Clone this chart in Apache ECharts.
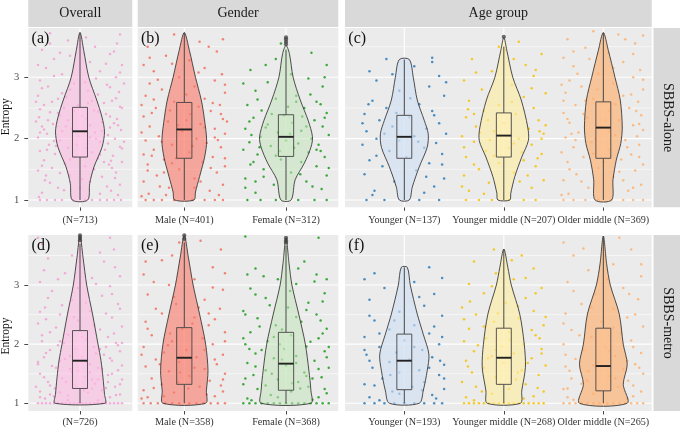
<!DOCTYPE html>
<html><head><meta charset="utf-8">
<script src="https://cdn.jsdelivr.net/npm/echarts@6.0.0/dist/echarts.min.js"></script>
<style>html,body{margin:0;padding:0;background:#fff}#c{width:680px;height:428px}</style>
</head><body><div id="c"></div>
<script>
// ---------------- data ----------------
const facetCols = ['Overall', 'Gender', 'Age group'];
const facetRows = ['SBBS-alone', 'SBBS-metro'];
const panelTags = ['(a)', '(b)', '(c)', '(d)', '(e)', '(f)'];
const yAxisTitle = 'Entropy';
const yTicks = [1, 2, 3];
const yMinorLines = [1.5, 2.5, 3.5];
const catLabelsAlone = [['(N=713)'], ['Male (N=401)', 'Female (N=312)'], ['Younger (N=137)', 'Younger middle (N=207)', 'Older middle (N=369)']];
const catLabelsMetro = [['(N=726)'], ['Male (N=358)', 'Female (N=368)'], ['Younger (N=193)', 'Younger middle (N=268)', 'Older middle (N=265)']];

// box stats per group: [lower whisker, Q1, median, Q3, upper whisker]
// group order: overall, male, female, younger, younger middle, older middle
const boxAlone = [[1,1.70,2.12,2.51,3.73],[1,1.68,2.15,2.59,3.73],[1,1.71,2.03,2.39,3.45],[1,1.68,2.03,2.38,3.29],[1,1.70,2.05,2.42,3.50],[1,1.68,2.18,2.60,3.73]];
const boxMetro = [[1,1.25,1.72,2.23,3.70],[1,1.32,1.77,2.28,3.72],[1,1.22,1.67,2.20,3.67],[1,1.23,1.72,2.17,3.30],[1,1.32,1.77,2.27,3.61],[1,1.21,1.63,2.27,3.83]];
const outliersAlone = [[],[],[3.54,3.58,3.62,3.65],[],[3.66],[]];
const outliersMetro = [[3.76,3.80,3.84],[3.78,3.84],[3.72,3.76,3.80],[],[],[]];

// violin density profiles: [entropy, half-width]
const vioAlone = [
  [[1,0.077],[1.27,0.097],[1.54,0.14],[1.86,0.22],[2.11,0.245],[2.35,0.22],[2.63,0.167],[3.0,0.088],[3.44,0.037],[3.73,0]],
  [[1,0.095],[1.13,0.11],[1.38,0.15],[1.70,0.20],[1.97,0.22],[2.35,0.195],[2.63,0.167],[3.0,0.11],[3.44,0.05],[3.73,0]],
  [[1,0.05],[1.33,0.09],[1.60,0.18],[1.86,0.245],[2.03,0.26],[2.30,0.217],[2.63,0.14],[3.0,0.07],[3.39,0.033],[3.52,0]],
  [[1,0.05],[1.21,0.08],[1.54,0.15],[1.86,0.23],[2.08,0.24],[2.30,0.20],[2.63,0.13],[3.0,0.09],[3.29,0.05]],
  [[1,0.06],[1.11,0.07],[1.38,0.11],[1.70,0.18],[1.97,0.247],[2.19,0.24],[2.63,0.175],[3.0,0.09],[3.44,0.03],[3.65,0]],
  [[1,0.083],[1.33,0.097],[1.65,0.13],[1.92,0.175],[2.19,0.19],[2.63,0.17],[3.0,0.117],[3.44,0.05],[3.73,0]]
];
const vioMetro = [
  [[1,0.25],[1.15,0.245],[1.43,0.23],[1.72,0.21],[2.0,0.18],[2.51,0.125],[3.0,0.067],[3.47,0.03],[3.84,0]],
  [[1,0.21],[1.21,0.217],[1.55,0.233],[2.0,0.21],[2.51,0.15],[3.0,0.087],[3.47,0.04],[3.84,0]],
  [[1,0.245],[1.21,0.245],[1.55,0.225],[2.0,0.19],[2.51,0.125],[3.0,0.058],[3.36,0.03],[3.8,0]],
  [[1,0.15],[1.21,0.19],[1.55,0.23],[1.83,0.247],[2.17,0.19],[2.51,0.13],[3.0,0.06],[3.30,0.03]],
  [[1,0.167],[1.21,0.18],[1.61,0.217],[2.0,0.205],[2.51,0.16],[3.0,0.075],[3.30,0.04],[3.61,0]],
  [[1,0.24],[1.32,0.20],[1.66,0.24],[2.0,0.20],[2.51,0.16],[3.0,0.07],[3.36,0.033],[3.83,0]]
];

const ptsOverallAlone = [-0.40,1,-0.33,1,-0.25,1,-0.18,1,-0.07,1,0.05,1,0.12,1,0.2,1,0.27,1,0.34,1,0.41,1,
 -0.38,1.12,0.31,1.15,-0.22,1.2,0.4,1.25,0.1,1.3,-0.35,1.32,0.22,1.38,-0.1,1.4,0.36,1.45,-0.42,1.48,-0.28,1.52,0.05,1.55,0.29,1.58,-0.15,1.6,0.42,1.62,-0.36,1.65,0.18,1.68,-0.05,1.7,0.33,1.72,-0.25,1.75,0.12,1.78,-0.4,1.8,0.25,1.82,-0.12,1.85,0.4,1.87,-0.31,1.9,0.07,1.92,0.2,1.95,-0.2,1.97,0.35,2.0,-0.42,2.02,-0.02,2.04,0.28,2.06,-0.33,2.08,0.15,2.1,-0.18,2.12,0.41,2.14,-0.08,2.16,0.3,2.18,-0.38,2.2,0.1,2.22,-0.27,2.24,0.22,2.27,-0.12,2.3,0.37,2.32,-0.41,2.35,0.02,2.37,0.26,2.4,-0.3,2.43,0.14,2.46,-0.16,2.5,0.4,2.52,-0.36,2.55,0.08,2.58,0.32,2.62,-0.22,2.65,-0.42,2.7,0.18,2.72,0.39,2.76,-0.1,2.8,-0.32,2.85,0.27,2.88,0.05,2.92,-0.4,2.95,0.36,3.0,-0.18,3.05,0.2,3.1,-0.34,3.15,0.42,3.2,0.1,3.25,-0.26,3.3,0.3,3.38,-0.38,3.45,0.15,3.5,-0.12,3.6,0.37,3.55,-0.3,3.72,
 -0.24,1.88,0.16,2.0,-0.36,2.15,0.34,2.25,-0.06,2.45,0.24,1.62,-0.2,2.38,0.06,1.85,-0.44,2.28,0.44,1.95,-0.14,2.68,0.12,2.62,
 -0.41,1.05,0.38,1.08,-0.16,1.16,0.27,1.22,-0.3,1.28,0.02,1.34,0.35,1.36,-0.2,1.44,0.14,1.5,-0.38,1.56,0.31,1.64,-0.1,1.66,0.2,1.74,-0.33,1.82,0.42,1.84,-0.03,1.9,0.28,1.92,-0.26,1.96,0.1,2.02,-0.4,2.1,0.22,2.12,-0.14,2.2,0.38,2.22,-0.32,2.3,0.06,2.33,0.3,2.36,-0.22,2.42,0.18,2.44,-0.4,2.48,0.42,2.5,-0.02,2.55,0.24,2.58,-0.28,2.6,0.36,2.66,-0.18,2.74,0.08,2.78,-0.38,2.82,0.3,2.84,-0.06,2.9,0.16,2.98,-0.26,3.02,0.4,3.08,-0.42,3.2,0.26,3.22,-0.1,3.35,0.34,3.42,-0.3,3.55,0.06,3.65,0.4,3.7,-0.2,3.4,0.44,2.9,-0.44,2.6,0.32,1.52,-0.34,1.4,0.0,1.2,0.2,1.1];
const ptsMaleAlone = [-0.38,1,-0.3,1,-0.22,1,-0.1,1,0.08,1,0.2,1,0.3,1,0.38,1,
 -0.35,1.1,0.25,1.15,-0.15,1.2,0.38,1.25,-0.4,1.3,0.1,1.35,-0.27,1.4,0.32,1.45,-0.05,1.5,0.4,1.55,-0.36,1.58,0.18,1.62,-0.2,1.66,0.28,1.7,-0.4,1.74,0.05,1.78,-0.3,1.82,0.36,1.86,-0.12,1.9,0.22,1.93,-0.38,1.97,0.12,2.0,-0.25,2.04,0.4,2.08,-0.02,2.12,0.3,2.16,-0.34,2.2,0.16,2.24,-0.16,2.28,0.38,2.32,-0.4,2.36,0.06,2.4,0.26,2.45,-0.28,2.5,0.35,2.55,-0.1,2.6,0.2,2.65,-0.38,2.7,0.4,2.75,-0.22,2.8,0.1,2.85,-0.34,2.9,0.3,2.95,-0.05,3.0,0.37,3.05,-0.3,3.1,0.2,3.15,-0.4,3.2,0.05,3.28,-0.18,3.35,0.32,3.42,-0.36,3.5,0.15,3.58,-0.1,3.7,0.38,3.62,
 -0.08,1.68,0.33,1.98,-0.32,2.42,0.02,2.3,-0.2,1.45,0.14,2.52,
 -0.42,1.06,0.34,1.08,-0.24,1.22,0.16,1.3,-0.36,1.48,0.26,1.52,-0.12,1.6,0.4,1.68,-0.32,1.72,0.08,1.88,-0.22,1.95,0.3,2.02,-0.42,2.1,0.2,2.18,-0.06,2.22,0.36,2.4,-0.14,2.46,0.28,2.58,-0.3,2.64,0.02,2.72,0.4,2.88,-0.26,2.96,0.14,3.08,-0.12,3.22,0.24,3.5,-0.34,3.32,0.42,2.28,-0.42,2.55,0.1,1.2,-0.18,1.08];
const ptsFemaleAlone = [-0.38,1,-0.25,1,-0.1,1,0.12,1,0.28,1,0.4,1,
 -0.3,1.12,0.35,1.18,-0.12,1.25,0.2,1.3,-0.4,1.35,0.4,1.4,0.05,1.45,-0.22,1.5,0.3,1.55,-0.35,1.58,0.15,1.62,-0.05,1.66,0.38,1.7,-0.28,1.74,0.22,1.78,-0.42,1.82,0.08,1.85,-0.15,1.88,0.32,1.9,-0.36,1.94,0.0,1.97,0.25,2.0,-0.25,2.03,0.42,2.06,-0.08,2.1,0.15,2.13,-0.4,2.16,0.36,2.2,-0.18,2.23,0.06,2.26,0.28,2.3,-0.32,2.34,-0.02,2.38,0.4,2.42,-0.24,2.46,0.18,2.5,-0.38,2.55,0.3,2.6,-0.1,2.65,0.1,2.7,-0.3,2.78,0.36,2.85,-0.18,2.92,0.22,2.98,0.05,3.05,-0.35,3.12,0.4,3.2,-0.1,3.3,0.25,3.4,-0.05,3.55,
 0.12,1.92,-0.2,2.18,0.34,1.8,-0.34,2.06,0.02,2.52,
 -0.4,1.2,0.26,1.22,-0.22,1.38,0.14,1.42,-0.32,1.62,0.42,1.52,-0.1,1.72,0.3,1.82,-0.26,1.86,0.04,2.08,0.2,2.2,-0.36,2.28,0.38,2.34,-0.14,2.4,0.1,2.6,-0.28,2.64,0.24,2.72,-0.42,2.9,0.38,3.0,-0.2,3.2,0.16,2.36,-0.06,1.8,0.34,2.56,-0.3,1.3];
const ptsYoungerAlone = [-0.38,1,-0.2,1,0.15,1,0.35,1,
 -0.3,1.15,0.3,1.22,-0.1,1.3,0.4,1.35,-0.4,1.42,0.12,1.48,-0.22,1.55,0.25,1.6,-0.35,1.65,0.02,1.7,0.38,1.75,-0.15,1.8,0.2,1.85,-0.42,1.9,0.32,1.93,-0.05,1.97,-0.28,2.0,0.1,2.04,0.42,2.08,-0.38,2.12,0.22,2.16,-0.12,2.2,0.35,2.25,-0.25,2.3,0.05,2.35,-0.4,2.4,0.28,2.45,-0.18,2.5,0.15,2.56,-0.32,2.62,0.4,2.7,-0.05,2.78,0.25,2.85,-0.28,2.95,0.35,3.02,-0.35,3.1,0.1,3.18,-0.18,3.3,0.28,3.32,
 -0.32,1.08,0.22,1.38,-0.28,1.72,0.14,1.95,-0.2,2.08,0.3,2.38,-0.36,2.56,0.06,2.66,0.42,2.92,-0.12,3.05,0.2,1.12,-0.42,2.25,0.38,1.58,-0.08,2.42,0.28,3.25];
const ptsYMiddleAlone = [-0.38,1,-0.25,1,-0.12,1,0.05,1,0.2,1,0.32,1,
 -0.35,1.15,0.28,1.2,-0.15,1.28,0.4,1.32,-0.4,1.4,0.1,1.45,-0.25,1.5,0.32,1.55,-0.05,1.6,0.2,1.65,-0.38,1.7,0.38,1.75,-0.18,1.8,0.05,1.85,0.28,1.9,-0.3,1.95,0.15,2.0,-0.42,2.04,0.4,2.08,-0.1,2.12,0.25,2.16,-0.28,2.2,0.0,2.25,0.35,2.3,-0.38,2.35,0.12,2.4,-0.2,2.45,0.3,2.5,-0.05,2.55,-0.35,2.62,0.2,2.68,0.42,2.74,-0.22,2.8,0.08,2.88,-0.4,2.95,0.3,3.02,-0.12,3.1,0.22,3.2,-0.32,3.3,0.38,3.38,-0.05,3.5,0.15,3.58,
 -0.3,2.4,0.18,1.78,0.36,2.12,-0.14,1.98,
 -0.42,1.22,0.16,1.3,-0.3,1.58,0.34,1.68,-0.1,1.72,0.1,1.92,-0.24,2.1,0.42,2.22,-0.36,2.48,0.08,2.6,0.28,2.82,-0.28,3.08,0.1,3.3,0.38,2.0,-0.16,2.3,0.24,1.4,-0.4,1.86,0.02,3.45,0.32,3.12,-0.2,1.1];
const ptsOMiddleAlone = [-0.4,1,-0.3,1,-0.18,1,-0.05,1,0.08,1,0.2,1,0.3,1,0.4,1,
 -0.35,1.1,0.25,1.15,-0.15,1.2,0.38,1.25,-0.4,1.32,0.1,1.38,-0.27,1.42,0.32,1.48,-0.05,1.52,0.4,1.58,-0.36,1.62,0.18,1.66,-0.2,1.7,0.28,1.74,-0.42,1.78,0.05,1.82,-0.3,1.86,0.36,1.9,-0.12,1.94,0.22,1.98,-0.38,2.02,0.12,2.06,-0.25,2.1,0.4,2.14,-0.02,2.18,0.3,2.22,-0.34,2.26,0.16,2.3,-0.16,2.34,0.38,2.38,-0.4,2.42,0.06,2.46,0.26,2.5,-0.28,2.55,0.35,2.6,-0.1,2.65,0.2,2.7,-0.38,2.75,0.4,2.8,-0.22,2.85,0.1,2.9,-0.34,2.95,0.3,3.0,-0.05,3.06,0.37,3.12,-0.3,3.18,0.2,3.25,-0.4,3.32,0.05,3.4,-0.18,3.48,0.32,3.55,-0.36,3.62,0.15,3.7,-0.1,3.75,
 -0.08,2.0,0.33,2.45,-0.32,2.08,0.02,2.3,
 -0.42,1.08,0.3,1.2,-0.22,1.3,0.16,1.46,-0.34,1.5,0.36,1.7,-0.1,1.76,0.24,1.86,-0.28,1.98,0.06,2.12,0.36,2.24,-0.2,2.4,0.12,2.56,-0.4,2.62,0.28,2.72,-0.06,2.8,0.4,2.96,-0.26,3.06,0.1,3.15,-0.14,3.3,0.3,3.38,-0.3,3.42,0.22,3.62,0.4,3.68,-0.42,2.88,0.0,1.62,0.2,1.32,-0.36,2.32,0.34,2.04,-0.18,2.62];
const ptsOverallMetro = [-0.42,1,-0.38,1,-0.34,1,-0.3,1,-0.26,1,-0.22,1,-0.18,1,-0.14,1,-0.1,1,-0.06,1,-0.02,1,0.02,1,0.06,1,0.1,1,0.14,1,0.18,1,0.22,1,0.26,1,0.3,1,0.34,1,0.38,1,0.42,1,
 -0.35,1.08,0.3,1.1,-0.12,1.13,0.4,1.15,0.08,1.18,-0.4,1.2,0.22,1.22,-0.25,1.25,0.35,1.28,-0.05,1.3,0.15,1.33,-0.32,1.36,0.42,1.4,-0.18,1.42,0.05,1.45,0.28,1.48,-0.4,1.5,-0.08,1.53,0.38,1.56,0.18,1.6,-0.28,1.63,0.1,1.66,-0.42,1.7,0.32,1.72,-0.15,1.75,0.02,1.78,0.24,1.82,-0.34,1.85,0.4,1.88,-0.05,1.92,0.14,1.95,-0.22,1.98,0.36,2.02,-0.38,2.05,0.06,2.08,0.28,2.12,-0.12,2.16,-0.3,2.2,0.2,2.25,0.42,2.3,-0.42,2.35,-0.02,2.4,0.32,2.45,-0.2,2.5,0.1,2.56,-0.35,2.62,0.38,2.68,-0.08,2.75,0.22,2.82,-0.28,2.9,0.3,2.98,-0.4,3.05,0.12,3.12,-0.15,3.2,0.35,3.3,-0.32,3.45,0.2,3.55,-0.38,3.7,0.1,3.85,
 -0.26,1.12,0.18,1.4,-0.1,1.58,0.26,1.95,-0.36,1.78,0.0,2.22,0.12,1.25,-0.2,2.05,
 -0.4,1.1,0.36,1.14,-0.2,1.18,0.04,1.22,0.26,1.26,-0.3,1.3,0.4,1.32,-0.14,1.36,0.12,1.4,-0.36,1.44,0.32,1.5,-0.02,1.55,0.22,1.58,-0.24,1.6,0.42,1.64,-0.42,1.66,0.06,1.7,0.3,1.76,-0.1,1.8,-0.3,1.9,0.2,1.92,0.38,1.98,-0.16,2.02,0.02,2.12,-0.38,2.15,0.34,2.18,-0.24,2.28,0.14,2.32,-0.06,2.46,0.26,2.52,-0.4,2.55,0.4,2.6,-0.18,2.66,0.06,2.7,-0.32,2.78,0.32,2.85,-0.02,2.95,0.16,3.02,-0.22,3.1,0.4,3.15,-0.36,3.25,0.24,3.4,-0.08,3.5,0.34,3.6,-0.42,3.8,0.3,3.8,-0.12,1.05,0.18,1.05,-0.3,1.15,0.28,1.36,0.1,1.52,-0.2,1.72,0.16,1.84,-0.34,2.42,0.42,2.02,-0.44,1.28];
const ptsMaleMetro = [-0.4,1,-0.33,1,-0.26,1,-0.19,1,-0.12,1,-0.05,1,0.05,1,0.12,1,0.19,1,0.26,1,0.33,1,0.4,1,
 -0.36,1.1,0.3,1.12,-0.1,1.18,0.38,1.2,-0.4,1.22,0.15,1.28,-0.22,1.32,0.25,1.38,-0.32,1.42,0.05,1.46,0.4,1.5,-0.15,1.54,0.2,1.58,-0.38,1.62,0.32,1.66,-0.05,1.7,-0.28,1.74,0.12,1.78,0.38,1.82,-0.2,1.86,0.02,1.9,-0.4,1.95,0.28,2.0,-0.12,2.05,0.18,2.1,-0.32,2.15,0.4,2.2,-0.02,2.26,0.24,2.32,-0.38,2.38,0.1,2.45,-0.22,2.52,0.35,2.6,-0.08,2.68,0.2,2.75,-0.36,2.84,0.38,2.92,-0.15,3.0,0.1,3.1,-0.4,3.18,0.28,3.3,-0.22,3.42,0.36,3.6,-0.05,3.72,
 -0.42,1.08,0.22,1.15,-0.3,1.26,0.36,1.3,-0.06,1.36,0.1,1.6,-0.24,1.66,0.3,1.74,-0.42,1.82,0.2,1.9,-0.16,1.98,0.4,2.05,-0.36,2.26,0.08,2.35,0.3,2.42,-0.28,2.6,0.14,2.62,-0.1,2.8,0.28,2.96,-0.3,3.05,0.4,3.2,-0.12,3.5,0.16,3.75,-0.38,3.4,0.38,1.4,-0.2,1.12,0.04,1.25,-0.14,2.18,0.24,2.52,-0.04,1.52];
const ptsFemaleMetro = [-0.42,1,-0.36,1,-0.3,1,-0.24,1,-0.18,1,-0.12,1,-0.06,1,0.0,1,0.06,1,0.12,1,0.18,1,0.24,1,0.3,1,0.36,1,0.42,1,
 -0.38,1.08,0.32,1.1,-0.15,1.14,0.4,1.17,0.05,1.2,-0.28,1.24,0.22,1.28,-0.42,1.32,0.12,1.36,-0.08,1.4,0.35,1.44,-0.32,1.48,0.18,1.52,-0.2,1.56,0.42,1.6,0.0,1.64,-0.38,1.68,0.28,1.72,-0.12,1.76,0.1,1.8,-0.3,1.84,0.38,1.88,-0.02,1.92,0.2,1.96,-0.4,2.0,-0.18,2.05,0.32,2.1,0.05,2.15,-0.35,2.2,0.4,2.26,-0.1,2.32,0.15,2.38,-0.28,2.44,0.3,2.5,-0.42,2.56,0.02,2.62,0.22,2.7,-0.2,2.78,0.38,2.86,-0.35,2.94,0.1,3.02,-0.08,3.1,0.3,3.18,-0.3,3.28,0.18,3.4,0.32,3.8,-0.4,3.82,
 0.26,1.42,-0.24,1.9,0.14,1.25,-0.04,2.25,
 -0.34,1.05,0.26,1.06,-0.08,1.1,0.38,1.24,-0.2,1.3,0.06,1.34,-0.4,1.42,0.2,1.46,-0.14,1.5,0.32,1.58,-0.3,1.62,0.1,1.68,-0.04,1.74,0.4,1.78,-0.36,1.92,0.24,2.04,-0.12,2.12,0.36,2.18,-0.26,2.3,0.1,2.46,-0.4,2.5,0.2,2.58,-0.16,2.66,0.36,2.72,-0.3,2.84,0.04,2.9,0.28,3.06,-0.22,3.15,0.4,3.1,-0.38,3.18,0.12,3.28,0.34,2.4,-0.06,2.0,0.42,1.95,-0.42,2.1];
const ptsYoungerMetro = [-0.4,1,-0.3,1,-0.2,1,-0.1,1,0.0,1,0.1,1,0.2,1,0.3,1,0.38,1,
 -0.35,1.1,0.28,1.14,-0.12,1.2,0.4,1.24,0.08,1.28,-0.4,1.32,0.2,1.36,-0.22,1.42,0.35,1.48,-0.05,1.52,0.15,1.56,-0.32,1.6,0.4,1.65,-0.15,1.7,0.05,1.74,0.28,1.78,-0.38,1.82,-0.08,1.86,0.18,1.9,-0.25,1.95,0.35,2.0,0.0,2.06,-0.4,2.12,0.25,2.18,-0.15,2.25,0.1,2.32,-0.3,2.4,0.38,2.48,-0.05,2.55,0.2,2.65,-0.35,2.75,0.3,2.85,-0.2,2.95,0.1,3.05,-0.4,3.1,0.38,3.12,-0.3,3.2,0.25,3.3,
 -0.25,1.05,0.32,1.08,-0.05,1.16,0.18,1.22,-0.3,1.3,0.4,1.42,-0.14,1.48,0.25,1.6,-0.35,1.72,0.1,1.95,0.38,2.12,-0.25,2.18,0.3,2.3,-0.1,2.4,0.15,2.8,-0.35,2.48,0.36,1.72,-0.4,1.9];
const ptsYMiddleMetro = [-0.4,1,-0.35,1,-0.3,1,-0.25,1,-0.2,1,-0.15,1,-0.1,1,-0.05,1,0.0,1,0.05,1,0.1,1,0.15,1,0.2,1,0.25,1,0.3,1,0.35,1,0.4,1,
 -0.38,1.1,0.3,1.12,-0.12,1.16,0.4,1.2,0.05,1.24,-0.28,1.28,0.22,1.32,-0.42,1.36,0.12,1.4,-0.08,1.44,0.35,1.48,-0.32,1.52,0.18,1.56,-0.2,1.6,0.42,1.64,0.0,1.68,-0.38,1.72,0.28,1.76,-0.12,1.8,0.1,1.84,-0.3,1.88,0.38,1.92,-0.02,1.96,0.2,2.0,-0.4,2.05,-0.18,2.1,0.32,2.15,0.05,2.2,-0.35,2.26,0.4,2.32,-0.1,2.38,0.15,2.44,-0.28,2.5,0.3,2.56,-0.42,2.62,0.02,2.7,0.22,2.78,-0.2,2.86,0.38,2.95,-0.35,3.02,0.1,3.1,-0.08,3.2,0.3,3.28,-0.3,3.4,0.18,3.5,-0.1,3.6,
 -0.3,1.05,0.2,1.08,-0.22,1.2,0.34,1.26,-0.04,1.32,0.14,1.52,-0.36,1.62,0.24,1.68,-0.16,1.76,0.38,1.84,-0.26,1.98,0.06,2.08,0.28,2.24,-0.2,2.3,0.42,2.46,-0.06,2.52,0.14,2.64,-0.34,2.72,0.32,2.86,-0.12,2.98,0.22,3.12,-0.4,2.42,0.08,3.42,0.36,2.1,-0.08,1.9];
const ptsOMiddleMetro = [-0.4,1,-0.34,1,-0.28,1,-0.22,1,-0.16,1,-0.1,1,-0.04,1,0.04,1,0.1,1,0.16,1,0.22,1,0.28,1,0.34,1,0.4,1,
 -0.36,1.1,0.3,1.12,-0.1,1.16,0.38,1.2,-0.4,1.24,0.15,1.28,-0.22,1.33,0.25,1.38,-0.32,1.42,0.05,1.46,0.4,1.5,-0.15,1.54,0.2,1.58,-0.38,1.62,0.32,1.66,-0.05,1.7,-0.28,1.75,0.12,1.8,0.38,1.85,-0.2,1.9,0.02,1.95,-0.4,2.0,0.28,2.06,-0.12,2.12,0.18,2.18,-0.32,2.24,0.4,2.3,-0.02,2.38,0.24,2.45,-0.38,2.52,0.1,2.6,-0.22,2.68,0.35,2.76,-0.08,2.85,0.2,2.95,-0.36,3.05,0.38,3.15,-0.15,3.25,0.1,3.35,-0.3,3.5,0.28,3.6,-0.4,3.72,
 -0.3,1.06,0.24,1.08,-0.04,1.22,0.3,1.3,-0.16,1.38,0.12,1.42,-0.34,1.55,0.36,1.6,-0.1,1.64,0.24,1.72,-0.38,1.82,0.06,1.88,0.3,1.95,-0.24,2.15,0.1,2.28,-0.4,2.35,0.32,2.5,-0.12,2.62,0.26,2.85,-0.3,2.9,0.04,3.1,0.38,3.35,-0.2,3.62,0.16,3.8,-0.36,1.25];
const ptsAlone = [ptsOverallAlone, ptsMaleAlone, ptsFemaleAlone, ptsYoungerAlone, ptsYMiddleAlone, ptsOMiddleAlone];
const ptsMetro = [ptsOverallMetro, ptsMaleMetro, ptsFemaleMetro, ptsYoungerMetro, ptsYMiddleMetro, ptsOMiddleMetro];

// ---------------- styles ----------------
const pointColors = ['#f49fd2', '#f2705f', '#1f9e1f', '#2b7bba', '#f7c200', '#fdb170'];
const violinFills = ['rgba(252,188,226,0.62)', 'rgba(250,125,108,0.62)', 'rgba(195,228,185,0.55)', 'rgba(208,222,244,0.62)', 'rgba(255,238,160,0.62)', 'rgba(252,178,118,0.7)'];
const boxFills = ['rgba(252,200,230,0.45)', 'rgba(250,140,125,0.4)', 'rgba(205,232,195,0.45)', 'rgba(215,228,246,0.45)', 'rgba(255,242,180,0.45)', 'rgba(252,190,140,0.45)'];
const SERIF = '"Liberation Serif", "DejaVu Serif", serif';

const colLayout = [
  {left: 28.3, width: 104, xMin: 0.483, xMax: 1.523, start: 0},
  {left: 137.7, width: 200.6, xMin: 0.542, xMax: 2.514, start: 1},
  {left: 345, width: 306.7, xMin: 0.404, xMax: 3.486, start: 3}
];
const rowLayout = [
  {top: 28, height: 179.3, yMin: 0.881, yMax: 3.804, labelMargin: 8.5},
  {top: 235, height: 176, yMin: 0.869, yMax: 3.847, labelMargin: 6.6}
];

const grids = [], xAxes = [], yAxes = [], series = [], graphics = [];

rowLayout.forEach((R, r) => {
  const labelsRow = r === 0 ? catLabelsAlone : catLabelsMetro;
  const boxRow = r === 0 ? boxAlone : boxMetro;
  const outRow = r === 0 ? outliersAlone : outliersMetro;
  const vioRow = r === 0 ? vioAlone : vioMetro;
  const ptsRow = r === 0 ? ptsAlone : ptsMetro;
  colLayout.forEach((C, c) => {
    const gi = grids.length;
    const labels = labelsRow[c];
    const cats = labels.map((_, i) => i + 1);
    const groups = cats.map(i => C.start + i - 1);
    grids.push({left: C.left, top: R.top, width: C.width, height: R.height, show: true,
      backgroundColor: '#ebebeb', borderWidth: 0, containLabel: false, outerBoundsMode: 'none'});
    xAxes.push({gridIndex: gi, type: 'value', min: C.xMin, max: C.xMax,
      axisLine: {show: false}, splitLine: {show: false},
      axisTick: {show: true, customValues: cats, length: 3.5, lineStyle: {color: '#333', width: 0.9}},
      axisLabel: {show: true, customValues: cats, margin: R.labelMargin, color: '#333', fontFamily: SERIF, fontSize: 10.2,
        hideOverlap: false, showMinLabel: true, showMaxLabel: true,
        formatter: v => labels[Math.round(v) - 1] || ''}});
    const leftCol = c === 0;
    yAxes.push({gridIndex: gi, type: 'value', min: R.yMin, max: R.yMax,
      axisLine: {show: false}, splitLine: {show: false},
      axisTick: {show: leftCol, customValues: yTicks, length: 4, lineStyle: {color: '#333', width: 0.9}},
      axisLabel: {show: leftCol, customValues: yTicks, margin: 9, color: '#4d4d4d', fontFamily: SERIF, fontSize: 10.6}});

    // grid lines
    series.push({type: 'custom', xAxisIndex: gi, yAxisIndex: gi, silent: true, z: 1, data: [[1, 2]],
      renderItem: (params, api) => {
        const cs = params.coordSys; const ch = [];
        yMinorLines.forEach(v => { const y = api.coord([1, v])[1];
          ch.push({type: 'line', shape: {x1: cs.x, y1: y, x2: cs.x + cs.width, y2: y}, style: {stroke: '#fff', lineWidth: 0.55}}); });
        yTicks.forEach(v => { const y = api.coord([1, v])[1];
          ch.push({type: 'line', shape: {x1: cs.x, y1: y, x2: cs.x + cs.width, y2: y}, style: {stroke: '#fff', lineWidth: 1.1}}); });
        cats.forEach(i => { const x = api.coord([i, 2])[0];
          ch.push({type: 'line', shape: {x1: x, y1: cs.y, x2: x, y2: cs.y + cs.height}, style: {stroke: '#fff', lineWidth: 1.1}}); });
        return {type: 'group', children: ch};
      }});

    // jittered points
    groups.forEach((g, j) => {
      const flat = ptsRow[g]; const d = [];
      for (let k = 0; k < flat.length; k += 2) d.push([j + 1 + flat[k], flat[k + 1]]);
      series.push({type: 'scatter', xAxisIndex: gi, yAxisIndex: gi, silent: true, z: 2, data: d,
        symbolSize: 2.5, itemStyle: {color: pointColors[g], opacity: 0.85}});
    });

    // violins
    series.push({type: 'custom', xAxisIndex: gi, yAxisIndex: gi, silent: true, z: 3, data: cats.map(i => [i, 2]),
      renderItem: (params, api) => {
        const j = params.dataIndex; const g = groups[j]; const cx = j + 1; const prof = vioRow[g];
        const pts = [];
        prof.forEach(([y, w]) => pts.push(api.coord([cx + w, y])));
        for (let k = prof.length - 1; k >= 0; k--) { const [y, w] = prof[k];
          if (k === prof.length - 1 && w === 0) continue; pts.push(api.coord([cx - w, y])); }
        return {type: 'polygon', shape: {points: pts, smooth: 0.3}, style: {fill: violinFills[g], stroke: '#3a3a3a', lineWidth: 0.9}};
      }});

    // boxes
    series.push({type: 'custom', xAxisIndex: gi, yAxisIndex: gi, silent: true, z: 4, data: cats.map(i => [i, 2]),
      renderItem: (params, api) => {
        const j = params.dataIndex; const g = groups[j]; const cx = j + 1;
        const [lo, q1, md, q3, hi] = boxRow[g]; const hw = 0.075;
        const pLo = api.coord([cx, lo]), pQ1 = api.coord([cx, q1]), pQ3 = api.coord([cx, q3]), pHi = api.coord([cx, hi]);
        const a = api.coord([cx - hw, q3]), b = api.coord([cx + hw, q1]);
        const m1 = api.coord([cx - hw, md]), m2 = api.coord([cx + hw, md]);
        const ch = [
          {type: 'line', shape: {x1: pLo[0], y1: pLo[1], x2: pQ1[0], y2: pQ1[1]}, style: {stroke: '#444', lineWidth: 1}},
          {type: 'line', shape: {x1: pQ3[0], y1: pQ3[1], x2: pHi[0], y2: pHi[1]}, style: {stroke: '#444', lineWidth: 1}},
          {type: 'rect', shape: {x: a[0], y: a[1], width: b[0] - a[0], height: b[1] - a[1]}, style: {fill: boxFills[g], stroke: '#444', lineWidth: 0.9}},
          {type: 'line', shape: {x1: m1[0], y1: m1[1], x2: m2[0], y2: m2[1]}, style: {stroke: '#222', lineWidth: 1.9}}
        ];
        outRow[g].forEach(v => { const p = api.coord([cx, v]);
          ch.push({type: 'circle', shape: {cx: p[0], cy: p[1], r: 2.1}, style: {fill: 'rgba(60,60,60,0.75)'}}); });
        return {type: 'group', children: ch};
      }});

    // panel tag
    graphics.push({type: 'text', x: C.left + 3.3, y: R.top + 11, z: 100,
      style: {text: panelTags[r * 3 + c], font: '16px ' + SERIF, fill: '#111', verticalAlign: 'middle', textVerticalAlign: 'middle'}});
  });

  // right strip
  graphics.push({type: 'rect', shape: {x: 653.5, y: R.top, width: 27, height: R.height}, style: {fill: '#d9d9d9'}, z: 50});
  graphics.push({type: 'text', x: 667.5, y: R.top + R.height / 2, rotation: -Math.PI / 2, z: 51,
    style: {text: facetRows[r], font: '14px ' + SERIF, fill: '#1a1a1a', align: 'center', verticalAlign: 'middle', textAlign: 'center', textVerticalAlign: 'middle'}});
});

// top strips
colLayout.forEach((C, c) => {
  graphics.push({type: 'rect', shape: {x: C.left, y: 0, width: C.width, height: 27}, style: {fill: '#d9d9d9'}, z: 50});
  graphics.push({type: 'text', x: C.left + C.width / 2, y: 13.5, z: 51,
    style: {text: facetCols[c], font: '14px ' + SERIF, fill: '#1a1a1a', align: 'center', verticalAlign: 'middle', textAlign: 'center', textVerticalAlign: 'middle'}});
});
// y-axis titles
[116.7, 336].forEach(y => {
  graphics.push({type: 'text', x: 5.5, y: y, rotation: Math.PI / 2, z: 51,
    style: {text: yAxisTitle, font: '11.5px ' + SERIF, fill: '#111', align: 'center', verticalAlign: 'middle', textAlign: 'center', textVerticalAlign: 'middle'}});
});

const chart = echarts.init(document.getElementById('c'), null, {renderer: 'canvas'});
chart.setOption({animation: false, backgroundColor: '#fff', grid: grids, xAxis: xAxes, yAxis: yAxes, series: series, graphic: graphics});
</script></body></html>
